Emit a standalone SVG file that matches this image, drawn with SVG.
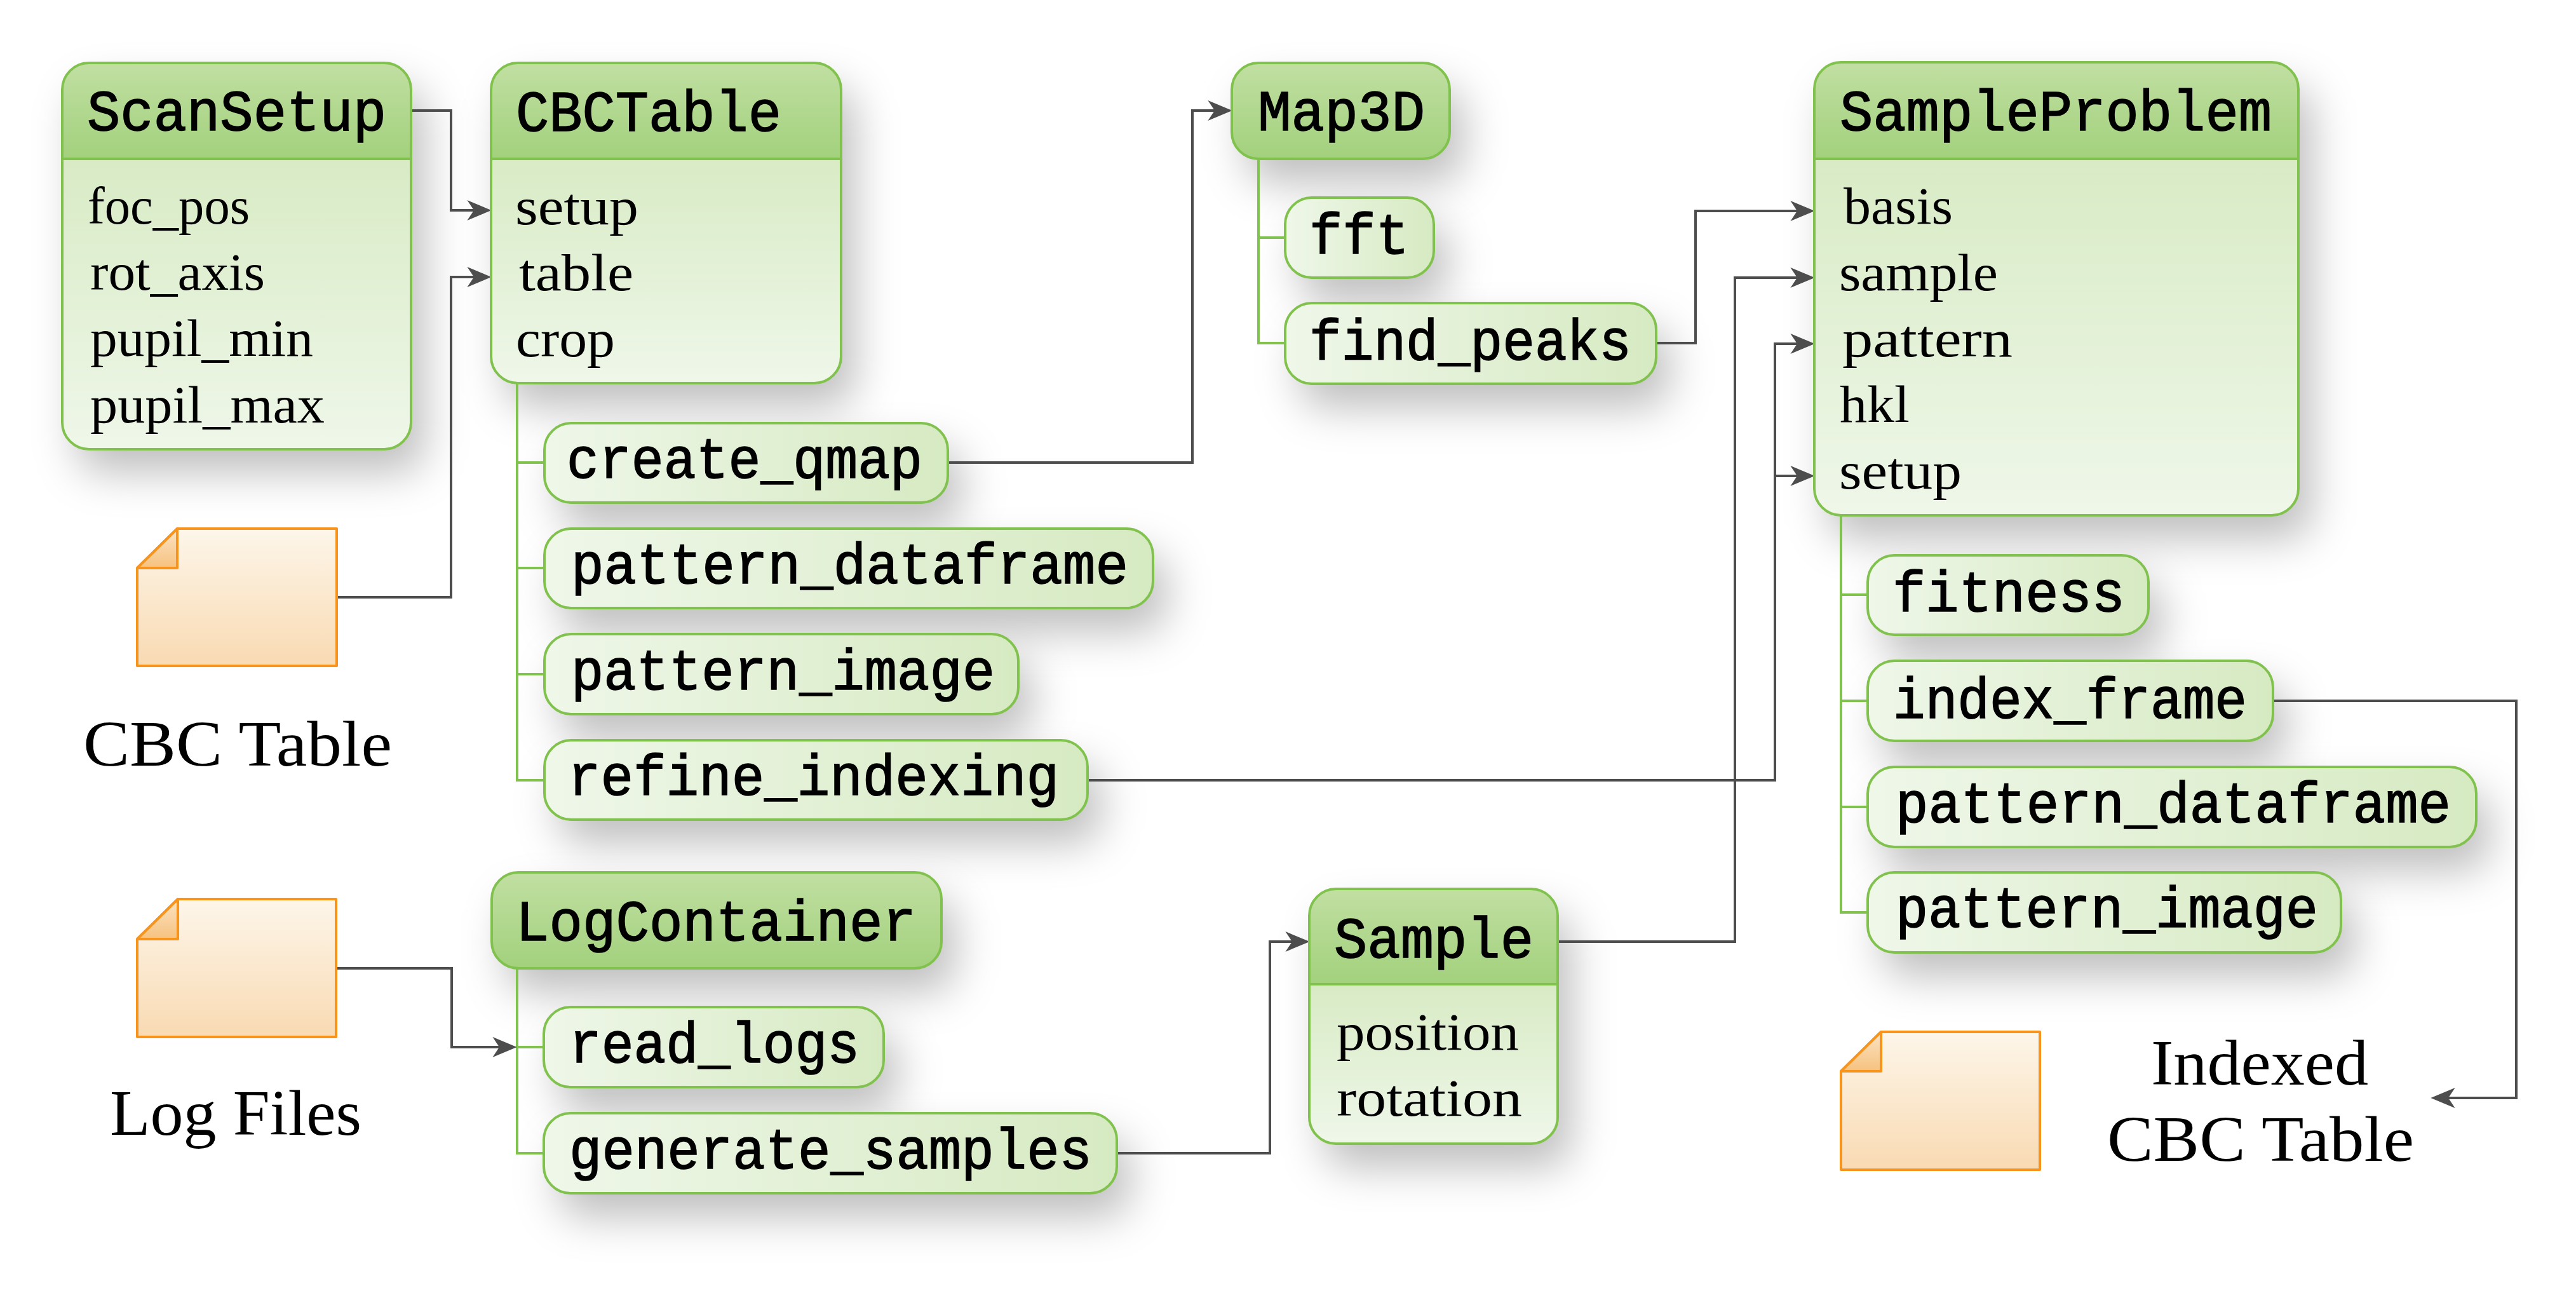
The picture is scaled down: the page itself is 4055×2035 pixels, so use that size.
<svg xmlns="http://www.w3.org/2000/svg" width="4055" height="2035" viewBox="0 0 4055 2035">
<style>
.m{font-family:"Liberation Mono",monospace;font-size:90px;fill:#000;stroke:#000;stroke-width:1.6px}
.r{font-family:"Liberation Serif",serif;font-size:82px;fill:#000}
.l{font-family:"Liberation Serif",serif;font-size:102px;fill:#000}
.o{fill:none;stroke:#80c24d;stroke-width:4}
.sh{fill:#000;fill-opacity:.25;filter:url(#blur)}
.pill{fill:url(#gPill);stroke:#80c24d;stroke-width:4}
.hd{fill:url(#gHead)}
.bd{fill:url(#gBody)}
.hl{fill:url(#gHead);stroke:#80c24d;stroke-width:4}
.doc{fill:url(#gDoc);stroke:#f7941e;stroke-width:4;stroke-linejoin:round}
.fold{fill:url(#gFold);stroke:#f7941e;stroke-width:4;stroke-linejoin:round}
.ln{fill:none;stroke:#80c24d;stroke-width:4}
.ar{fill:none;stroke:#4d4d4d;stroke-width:4;marker-end:url(#arrow)}
</style>
<defs>
<linearGradient id="gHead" x1="0" y1="0" x2="0" y2="1"><stop offset="0" stop-color="#c1dfa2"/><stop offset="1" stop-color="#a2d17c"/></linearGradient>
<linearGradient id="gBody" x1="0" y1="0" x2="0" y2="1"><stop offset="0" stop-color="#d8ebc5"/><stop offset="1" stop-color="#eff7e9"/></linearGradient>
<linearGradient id="gPill" x1="0" y1="0" x2="1" y2="0"><stop offset="0" stop-color="#eff7e9"/><stop offset="1" stop-color="#d6eac2"/></linearGradient>
<linearGradient id="gDoc" x1="0" y1="0" x2="0" y2="1"><stop offset="0" stop-color="#fdf6ea"/><stop offset="1" stop-color="#f9dab2"/></linearGradient>
<linearGradient id="gFold" x1="0" y1="0" x2="0" y2="1"><stop offset="0" stop-color="#fbe3c4"/><stop offset="1" stop-color="#f6c27f"/></linearGradient>
<filter id="blur" filterUnits="userSpaceOnUse" x="0" y="0" width="4055" height="2035"><feGaussianBlur stdDeviation="33"/></filter>
<marker id="arrow" markerUnits="userSpaceOnUse" markerWidth="40" markerHeight="34" viewBox="0 0 36 32" refX="26" refY="16" orient="auto"><path d="M36 16L0 1L10 16L0 31Z" fill="#4d4d4d"/></marker>
</defs>
<rect width="4055" height="2035" fill="#fff"/>
<g id="shadows">
<rect class="sh" x="120" y="137" width="549" height="607" rx="42"/>
<rect class="sh" x="795" y="137" width="551" height="504" rx="42"/>
<rect class="sh" x="879" y="704" width="635" height="125" rx="42"/>
<rect class="sh" x="879" y="870" width="958" height="125" rx="42"/>
<rect class="sh" x="879" y="1036" width="746" height="126" rx="42"/>
<rect class="sh" x="879" y="1203" width="855" height="125" rx="42"/>
<rect class="sh" x="796" y="1411" width="708" height="151" rx="42"/>
<rect class="sh" x="878" y="1623" width="535" height="126" rx="42"/>
<rect class="sh" x="878" y="1790" width="902" height="126" rx="42"/>
<rect class="sh" x="1961" y="137" width="343" height="151" rx="42"/>
<rect class="sh" x="2045" y="349" width="234" height="126" rx="42"/>
<rect class="sh" x="2045" y="515" width="584" height="127" rx="42"/>
<rect class="sh" x="2083" y="1437" width="391" height="401" rx="42"/>
<rect class="sh" x="2878" y="136" width="762" height="713" rx="42"/>
<rect class="sh" x="2962" y="912" width="442" height="125" rx="42"/>
<rect class="sh" x="2962" y="1078" width="638" height="126" rx="42"/>
<rect class="sh" x="2962" y="1245" width="958" height="126" rx="42"/>
<rect class="sh" x="2962" y="1411" width="745" height="126" rx="42"/>
</g>
<g id="connectors">
<path class="ln" d="M814 603V1228H857M814 728H857M814 894H857M814 1061H857"/>
<path class="ln" d="M1981 250V540H2023M1981 374H2023"/>
<path class="ln" d="M814 1524V1815H856M814 1648H856"/>
<path class="ln" d="M2898 811V1436H2940M2898 936H2940M2898 1103H2940M2898 1270H2940"/>
<path class="ar" d="M647 174H710V331H763"/>
<path class="ar" d="M530 940H710V436H763"/>
<path class="ar" d="M1492 728H1877V174H1929"/>
<path class="ar" d="M2607 540H2669V332H2846"/>
<path class="ar" d="M2452 1482H2731V437H2846"/>
<path class="ar" d="M1712 1228H2794V541H2846"/>
<path class="ar" d="M2794 749H2846"/>
<path class="ar" d="M530 1524H711V1648H803"/>
<path class="ar" d="M1758 1815H1999V1482H2051"/>
<path class="ar" d="M3578 1103H3961V1728H3837"/>
</g>
<g id="ScanSetup">
<path class="hd" d="M98 250V141A42 42 0 0 1 140 99H605A42 42 0 0 1 647 141V250Z"/>
<path class="bd" d="M98 250H647V665A42 42 0 0 1 605 707H140A42 42 0 0 1 98 665Z"/>
<path class="o" d="M98 250H647M140 99H605A42 42 0 0 1 647 141V665A42 42 0 0 1 605 707H140A42 42 0 0 1 98 665V141A42 42 0 0 1 140 99Z"/>
<text class="m" x="137" y="205" textLength="471" lengthAdjust="spacingAndGlyphs">ScanSetup</text>
<text class="r" x="138" y="352" textLength="255" lengthAdjust="spacingAndGlyphs">foc_pos</text>
<text class="r" x="142" y="456" textLength="275" lengthAdjust="spacingAndGlyphs">rot_axis</text>
<text class="r" x="142" y="560" textLength="351" lengthAdjust="spacingAndGlyphs">pupil_min</text>
<text class="r" x="142" y="665" textLength="369" lengthAdjust="spacingAndGlyphs">pupil_max</text>
</g>
<g id="CBCTable">
<path class="hd" d="M773 250V141A42 42 0 0 1 815 99H1282A42 42 0 0 1 1324 141V250Z"/>
<path class="bd" d="M773 250H1324V561A42 42 0 0 1 1282 603H815A42 42 0 0 1 773 561Z"/>
<path class="o" d="M773 250H1324M815 99H1282A42 42 0 0 1 1324 141V561A42 42 0 0 1 1282 603H815A42 42 0 0 1 773 561V141A42 42 0 0 1 815 99Z"/>
<text class="m" x="812" y="206" textLength="418" lengthAdjust="spacingAndGlyphs">CBCTable</text>
<text class="r" x="811" y="353" textLength="194" lengthAdjust="spacingAndGlyphs">setup</text>
<text class="r" x="817" y="457" textLength="180" lengthAdjust="spacingAndGlyphs">table</text>
<text class="r" x="812" y="561" textLength="156" lengthAdjust="spacingAndGlyphs">crop</text>
</g>
<g id="create_qmap"><rect class="pill" x="857" y="666" width="635" height="125" rx="42"/><text class="m" x="892" y="752" textLength="560" lengthAdjust="spacingAndGlyphs">create_qmap</text></g>
<g id="pattern_dataframe_1"><rect class="pill" x="857" y="832" width="958" height="125" rx="42"/><text class="m" x="899" y="918" textLength="877" lengthAdjust="spacingAndGlyphs">pattern_dataframe</text></g>
<g id="pattern_image_1"><rect class="pill" x="857" y="998" width="746" height="126" rx="42"/><text class="m" x="899" y="1085" textLength="667" lengthAdjust="spacingAndGlyphs">pattern_image</text></g>
<g id="refine_indexing"><rect class="pill" x="857" y="1165" width="855" height="125" rx="42"/><text class="m" x="894" y="1251" textLength="773" lengthAdjust="spacingAndGlyphs">refine_indexing</text></g>
<g id="LogContainer">
<rect class="hl" x="774" y="1373" width="708" height="151" rx="42"/>
<text class="m" x="812" y="1480" textLength="630" lengthAdjust="spacingAndGlyphs">LogContainer</text>
</g>
<g id="read_logs"><rect class="pill" x="856" y="1585" width="535" height="126" rx="42"/><text class="m" x="896" y="1672" textLength="457" lengthAdjust="spacingAndGlyphs">read_logs</text></g>
<g id="generate_samples"><rect class="pill" x="856" y="1752" width="902" height="126" rx="42"/><text class="m" x="896" y="1839" textLength="823" lengthAdjust="spacingAndGlyphs">generate_samples</text></g>
<g id="Map3D">
<rect class="hl" x="1939" y="99" width="343" height="151" rx="42"/>
<text class="m" x="1980" y="205" textLength="263" lengthAdjust="spacingAndGlyphs">Map3D</text>
</g>
<g id="fft"><rect class="pill" x="2023" y="311" width="234" height="126" rx="42"/><text class="m" x="2061" y="399" textLength="157" lengthAdjust="spacingAndGlyphs">fft</text></g>
<g id="find_peaks"><rect class="pill" x="2023" y="477" width="584" height="127" rx="42"/><text class="m" x="2061" y="566" textLength="507" lengthAdjust="spacingAndGlyphs">find_peaks</text></g>
<g id="Sample">
<path class="hd" d="M2061 1549V1441A42 42 0 0 1 2103 1399H2410A42 42 0 0 1 2452 1441V1549Z"/>
<path class="bd" d="M2061 1549H2452V1758A42 42 0 0 1 2410 1800H2103A42 42 0 0 1 2061 1758V1549Z"/>
<path class="o" d="M2061 1549H2452M2103 1399H2410A42 42 0 0 1 2452 1441V1758A42 42 0 0 1 2410 1800H2103A42 42 0 0 1 2061 1758V1441A42 42 0 0 1 2103 1399Z"/>
<text class="m" x="2100" y="1507" textLength="314" lengthAdjust="spacingAndGlyphs">Sample</text>
<text class="r" x="2104" y="1652" textLength="287" lengthAdjust="spacingAndGlyphs">position</text>
<text class="r" x="2104" y="1756" textLength="292" lengthAdjust="spacingAndGlyphs">rotation</text>
</g>
<g id="SampleProblem">
<path class="hd" d="M2856 250V140A42 42 0 0 1 2898 98H3576A42 42 0 0 1 3618 140V250Z"/>
<path class="bd" d="M2856 250H3618V769A42 42 0 0 1 3576 811H2898A42 42 0 0 1 2856 769Z"/>
<path class="o" d="M2856 250H3618M2898 98H3576A42 42 0 0 1 3618 140V769A42 42 0 0 1 3576 811H2898A42 42 0 0 1 2856 769V140A42 42 0 0 1 2898 98Z"/>
<text class="m" x="2896" y="205" textLength="680" lengthAdjust="spacingAndGlyphs">SampleProblem</text>
<text class="r" x="2902" y="352" textLength="172" lengthAdjust="spacingAndGlyphs">basis</text>
<text class="r" x="2895" y="457" textLength="250" lengthAdjust="spacingAndGlyphs">sample</text>
<text class="r" x="2900" y="561" textLength="268" lengthAdjust="spacingAndGlyphs">pattern</text>
<text class="r" x="2896" y="664" textLength="110" lengthAdjust="spacingAndGlyphs">hkl</text>
<text class="r" x="2895" y="769" textLength="193" lengthAdjust="spacingAndGlyphs">setup</text>
</g>
<g id="fitness"><rect class="pill" x="2940" y="874" width="442" height="125" rx="42"/><text class="m" x="2979" y="962" textLength="366" lengthAdjust="spacingAndGlyphs">fitness</text></g>
<g id="index_frame"><rect class="pill" x="2940" y="1040" width="638" height="126" rx="42"/><text class="m" x="2980" y="1130" textLength="557" lengthAdjust="spacingAndGlyphs">index_frame</text></g>
<g id="pattern_dataframe_2"><rect class="pill" x="2940" y="1207" width="958" height="126" rx="42"/><text class="m" x="2984" y="1294" textLength="874" lengthAdjust="spacingAndGlyphs">pattern_dataframe</text></g>
<g id="pattern_image_2"><rect class="pill" x="2940" y="1373" width="745" height="126" rx="42"/><text class="m" x="2984" y="1459" textLength="665" lengthAdjust="spacingAndGlyphs">pattern_image</text></g>
<g id="doc_cbc_table">
<path class="doc" d="M216 894L279 832H530V1048H216Z"/><path class="fold" d="M216 894L279 832V894Z"/>
<text class="l" x="131" y="1205" textLength="486" lengthAdjust="spacingAndGlyphs">CBC Table</text>
</g>
<g id="doc_log_files">
<path class="doc" d="M216 1478L280 1415H529V1632H216Z"/><path class="fold" d="M216 1478L280 1415V1478Z"/>
<text class="l" x="173" y="1786" textLength="396" lengthAdjust="spacingAndGlyphs">Log Files</text>
</g>
<g id="doc_indexed">
<path class="doc" d="M2898 1686L2961 1624H3211V1841H2898Z"/><path class="fold" d="M2898 1686L2961 1624V1686Z"/>
<text class="l" x="3386" y="1707" textLength="342" lengthAdjust="spacingAndGlyphs">Indexed</text>
<text class="l" x="3317" y="1827" textLength="483" lengthAdjust="spacingAndGlyphs">CBC Table</text>
</g>
</svg>
